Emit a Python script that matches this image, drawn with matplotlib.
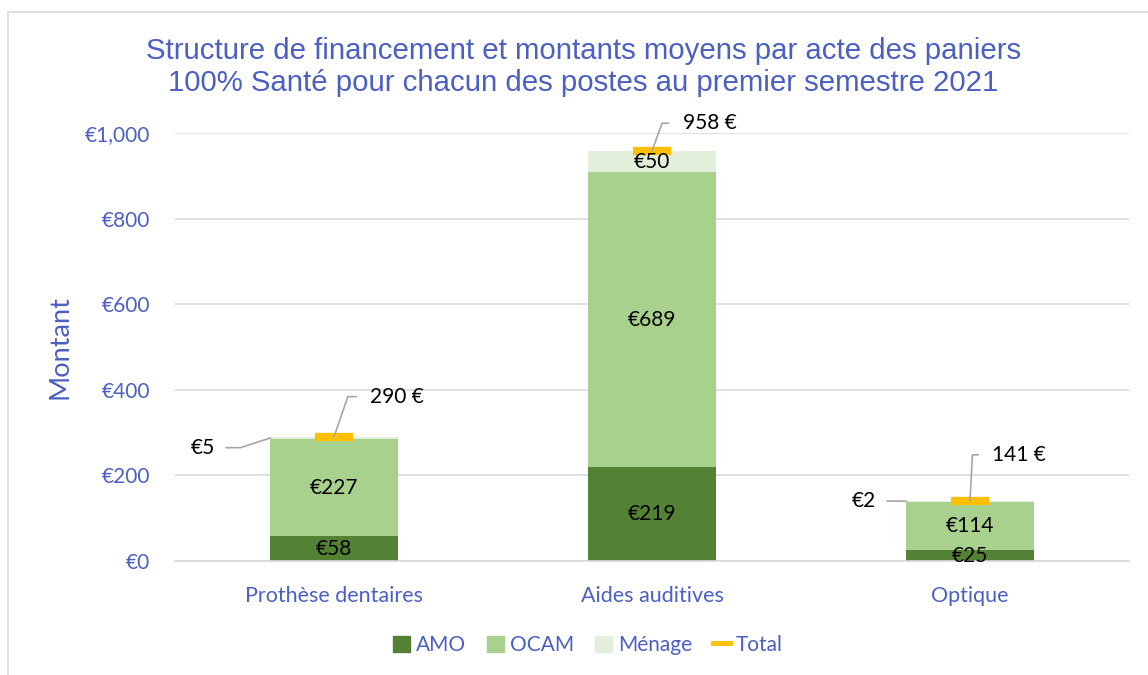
import numpy as np
import matplotlib
matplotlib.use("Agg")
import matplotlib.pyplot as plt
from matplotlib.lines import Line2D
from matplotlib.patches import Patch

# data
categories = ["Prothèse dentaires", "Aides auditives", "Optique"]
amo = [58, 219, 25]
ocam = [227, 689, 114]
menage = [5, 50, 2]
total = [290, 958, 141]

blue = "#4C5FC2"
c_amo = "#548235"
c_ocam = "#A9D18E"
c_men = "#E2EFDA"
c_tot = "#FFC000"
lead = "#A6A6A6"

plt.rcParams["font.family"] = ["Lato", "DejaVu Sans"]

fig = plt.figure(figsize=(11.48, 6.75), dpi=100)
ax = fig.add_axes([175 / 1148, 114 / 675, 954 / 1148, 428 / 675])

x = np.arange(len(categories))
w = 0.4
amo_a = np.array(amo)
ocam_a = np.array(ocam)
men_a = np.array(menage)

ax.bar(x, amo_a, w, color=c_amo, label="AMO", zorder=2)
ax.bar(x, ocam_a, w, bottom=amo_a, color=c_ocam, label="OCAM", zorder=2)
ax.bar(x, men_a, w, bottom=amo_a + ocam_a, color=c_men, label="Ménage", zorder=2)
ax.plot(x, total, ls="none", marker="_", ms=27, mew=6, color=c_tot,
        label="Total", zorder=4, clip_on=False)

lab_fs = 15
# segment labels
for i in range(len(categories)):
    ax.text(x[i], amo_a[i] / 2, f"€{amo[i]}", ha="center", va="center",
            fontsize=lab_fs, color="black", zorder=5)
    ax.text(x[i], amo_a[i] + ocam_a[i] / 2, f"€{ocam[i]}", ha="center",
            va="center", fontsize=lab_fs, color="black", zorder=5)

# Ménage labels (small ones moved out with leader lines)
ax.text(x[1], amo_a[1] + ocam_a[1] + men_a[1] / 2, f"€{menage[1]}",
        ha="center", va="center", fontsize=lab_fs, color="black", zorder=5)
men_offsets = {0: (-40, -7, "angle,angleA=0,angleB=18,rad=0"),
               2: (-22, 0, "arc3")}
for i, (dx, dy, cs) in men_offsets.items():
    ax.annotate(f"€{menage[i]}",
                xy=(x[i] - w / 2, amo_a[i] + ocam_a[i] + men_a[i] / 2),
                xytext=(dx, dy), textcoords="offset points",
                ha="right", va="center", fontsize=lab_fs, color="black",
                annotation_clip=False,
                arrowprops=dict(arrowstyle="-", color=lead, lw=1.2,
                                connectionstyle=cs, shrinkA=6, shrinkB=0,
                                relpos=(1, 0.5)))

# total labels
tot_offsets = [(26, 29, 71), (22, 20, 70), (16, 33, 87)]
for i, (dx, dy, ang) in enumerate(tot_offsets):
    ax.annotate(f"{total[i]} €", xy=(x[i], total[i]),
                xytext=(dx, dy), textcoords="offset points",
                ha="left", va="center", fontsize=lab_fs, color="black",
                annotation_clip=False, zorder=6,
                arrowprops=dict(arrowstyle="-", color=lead, lw=1.2,
                                connectionstyle=f"angle,angleA=0,angleB={ang},rad=0",
                                shrinkA=8, shrinkB=0, relpos=(0, 0.5)))

ax.set_xlim(-0.5, 2.5)
ax.set_ylim(0, 1000)
ax.set_yticks(np.arange(0, 1001, 200))
ax.set_yticklabels([f"€{v:,}" for v in range(0, 1001, 200)])
ax.set_xticks(x)
ax.set_xticklabels(categories)
ax.tick_params(axis="both", length=0, labelsize=15, colors=blue)
ax.tick_params(axis="x", labelsize=15.5)
ax.tick_params(axis="y", pad=18)
ax.tick_params(axis="x", pad=18)
ax.grid(axis="y", color="#D9D9D9", lw=1.2, zorder=0)
ax.set_axisbelow(True)
for s in ["top", "right", "left"]:
    ax.spines[s].set_visible(False)
ax.spines["bottom"].set_color("#D9D9D9")
ax.spines["bottom"].set_linewidth(1.2)

ax.set_ylabel("Montant", fontsize=19.5, color=blue, labelpad=9)

fig.text(0.508, 1 - 67 / 675, "Structure de financement et montants moyens par acte des paniers\n"
         "100% Santé pour chacun des postes au premier semestre 2021",
         ha="center", va="center", fontsize=21.2, color=blue,
         family=["Liberation Sans", "DejaVu Sans"], linespacing=1.2)

handles = [Patch(color=c_amo), Patch(color=c_ocam), Patch(color=c_men),
           Line2D([], [], color=c_tot, lw=3.5)]
fig.legend(handles, ["AMO", "OCAM", "Ménage", "Total"], loc="center",
           bbox_to_anchor=(588 / 1148, 1 - 645 / 675), ncol=4, frameon=False,
           fontsize=15, labelcolor=blue, handlelength=0.8, handleheight=0.8,
           handletextpad=0.3, columnspacing=1.0)

# chart border
fig.add_artist(Line2D([8 / 1148, 8 / 1148], [0, 1 - 12 / 675], color="#D9D9D9",
                      lw=1.2, transform=fig.transFigure))
fig.add_artist(Line2D([8 / 1148, 1], [1 - 12 / 675, 1 - 12 / 675], color="#D9D9D9",
                      lw=1.2, transform=fig.transFigure))

fig.savefig("out.png", dpi=100, facecolor="white")
